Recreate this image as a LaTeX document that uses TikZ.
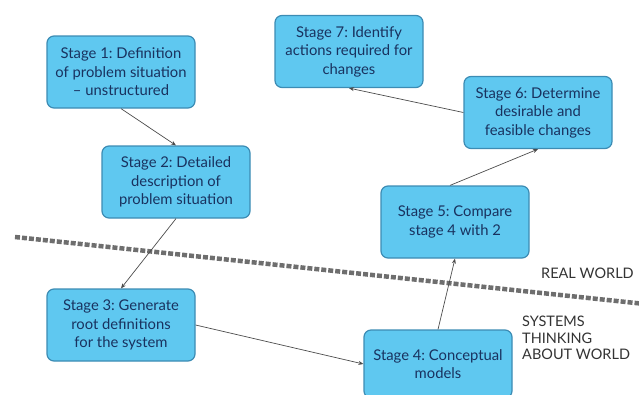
\documentclass[tikz,border=0pt]{standalone}
\usepackage{fontspec}
\setmainfont{Lato}
\usetikzlibrary{arrows.meta}
\definecolor{boxfill}{RGB}{95,200,240}
\definecolor{boxline}{RGB}{60,140,180}
\definecolor{boxtext}{RGB}{25,50,95}
\definecolor{dashcol}{RGB}{110,110,110}
\tikzset{
  stagebox/.style={draw=boxline, line width=1.2pt, fill=boxfill, rounded corners=7pt,
    minimum width=148pt, minimum height=72pt, align=center,
    text=boxtext, font=\fontsize{14.8}{18.5}\selectfont, inner sep=2pt},
  conn/.style={draw=black!70, line width=0.7pt, -{Stealth[length=5pt,width=4pt]}},
  divider/.style={draw=dashcol, line width=4.5pt, dash pattern=on 5pt off 2pt},
  worldlabel/.style={text=black!80, font=\fontsize{14.5}{16.5}\selectfont, inner sep=0pt, align=left}
}
\begin{document}
\frenchspacing
\begin{tikzpicture}[x=1pt,y=-1pt]
\useasboundingbox (0,0) rectangle (639,394);
\coordinate (d1) at (15,237);
\coordinate (d2) at (645,304);
\draw[divider] (d1) -- (d2);

\node[stagebox] (s1) at (121,72) {Stage 1: Definition\\of problem situation\\-- unstructured};
\node[stagebox] (s2) at (176,182) {Stage 2: Detailed\\description of\\problem situation};
\node[stagebox] (s3) at (121,325) {Stage 3: Generate\\root definitions\\for the system};
\node[stagebox, minimum height=68pt] (s4) at (438,364) {Stage 4: Conceptual\\models};
\node[stagebox] (s5) at (455,222) {Stage 5: Compare\\stage 4 with 2};
\node[stagebox] (s6) at (538,112.5) {Stage 6: Determine\\desirable and\\feasible changes};
\node[stagebox] (s7) at (349,51.5) {Stage 7: Identify\\actions required for\\changes};

\node[worldlabel, anchor=west] (rw) at (541,273) {REAL WORLD};
\node[worldlabel, anchor=north west] (st) at (522,316) {SYSTEMS\\THINKING\\ABOUT WORLD};

\draw[conn] (s1.south) -- (s2.north);
\draw[conn] (s2.south) -- (s3.north);
\draw[conn] (s3.east) -- (s4.west);
\draw[conn] (s4.north) -- (s5.south);
\draw[conn] ([xshift=-5pt]s5.north) -- (s6.south);
\draw[conn] (s6.west) -- (s7.south);
\end{tikzpicture}
\end{document}
